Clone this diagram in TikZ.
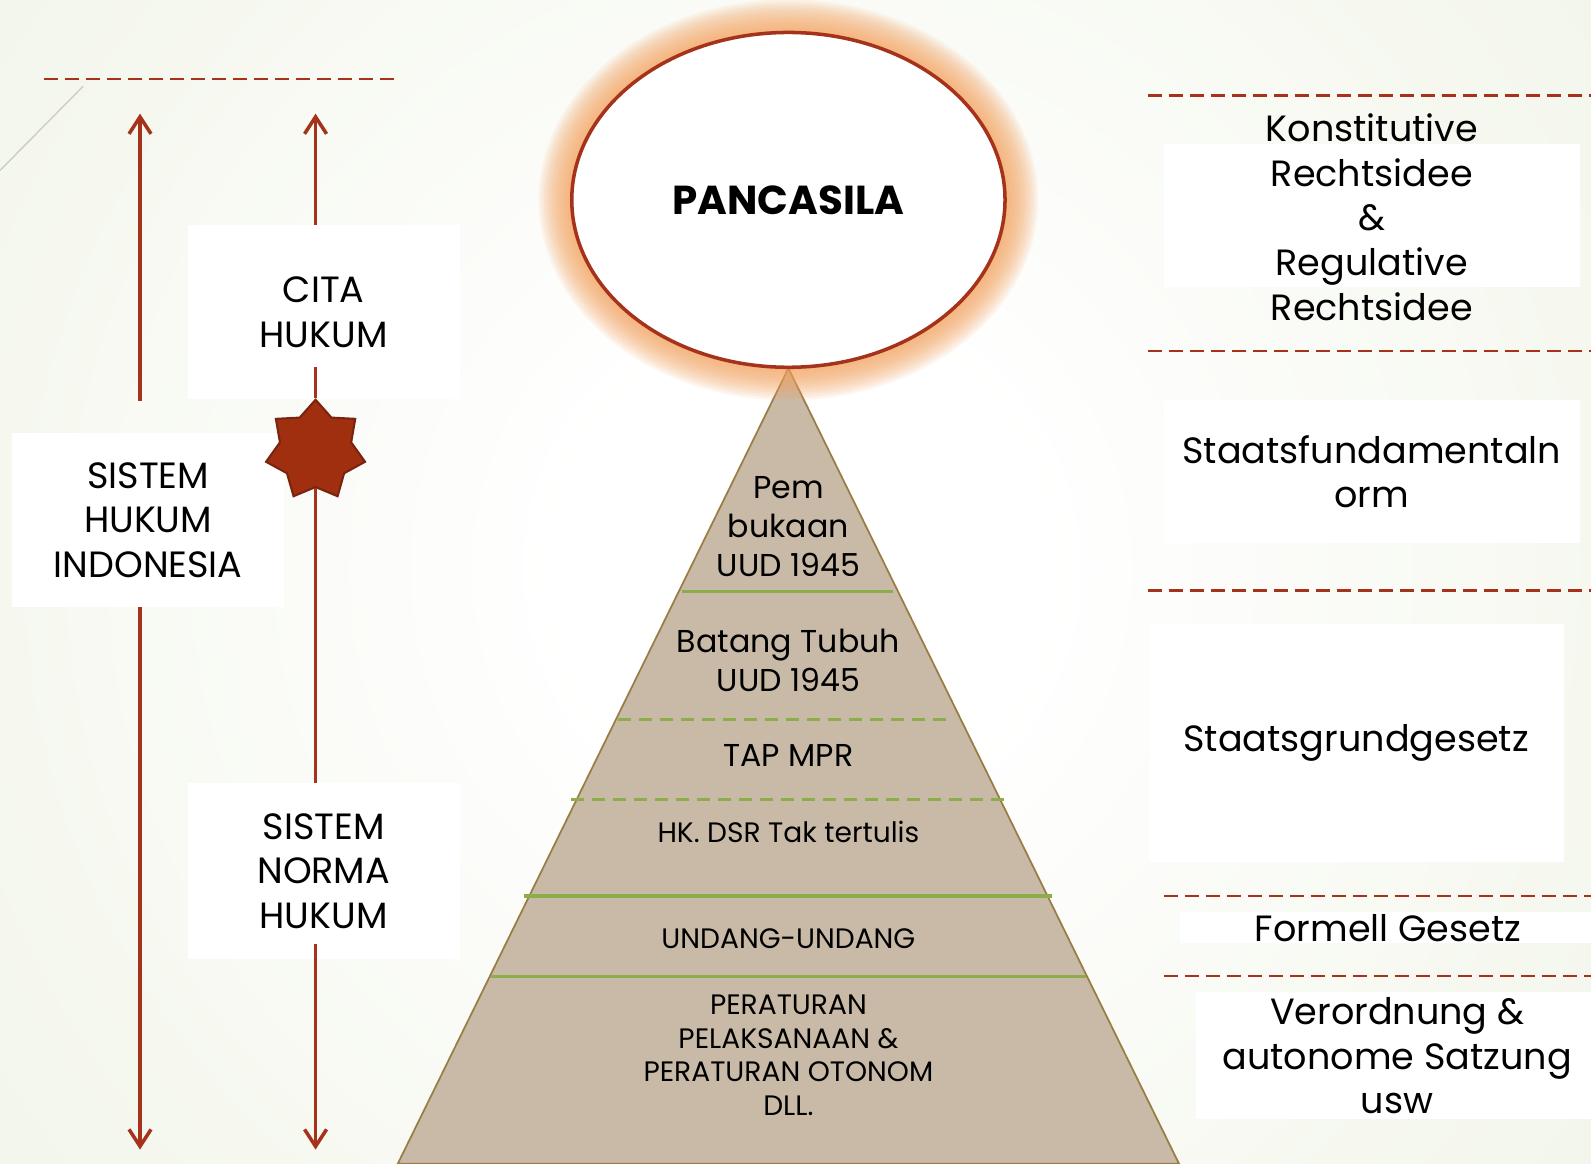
\documentclass[tikz,border=0pt]{standalone}
\usepackage{fontspec}
\setmainfont{Poppins}
\usetikzlibrary{shapes.geometric,arrows.meta}

\definecolor{hijauLatar}{HTML}{E4EBD2}
\definecolor{merahGaris}{HTML}{A5321B}
\definecolor{bintangIsi}{HTML}{A02F10}
\definecolor{bintangTepi}{HTML}{7A2410}
\definecolor{piramidIsi}{HTML}{C8BAA7}
\definecolor{piramidTepi}{HTML}{9A7D45}
\definecolor{hijauGaris}{HTML}{8DAD4B}
\definecolor{cahayaOranye}{HTML}{F5A35E}

\newcommand{\pxu}{0.10147mm}

\pgfdeclareradialshading{latarCahaya}{\pgfpoint{0bp}{0bp}}{color(0bp)=(white); color(3bp)=(white); color(24bp)=(hijauLatar); color(50bp)=(hijauLatar)}

\tikzset{
  kotak/.style={fill=white, inner sep=0pt},
  teksBesar/.style={font=\fontsize{10.4}{12.7}\selectfont, align=center},
  teksPiramid/.style={font=\fontsize{9}{11}\selectfont, align=center},
  teksKecil/.style={font=\fontsize{8}{9.5}\selectfont, align=center},
  panah/.style={merahGaris, line width=1pt, -{Straight Barb[length=1.7mm,width=2.2mm]}},
  garisMerah/.style={merahGaris, line width=1pt},
  putusMerah/.style={merahGaris, line width=0.65pt, dash pattern=on 1.45mm off 0.65mm},
  batasHijau/.style={hijauGaris, line width=0.9pt},
  putusHijau/.style={hijauGaris, line width=0.75pt, dash pattern=on 1.3mm off 0.8mm},
  elips/.style={ellipse, fill=white, draw=merahGaris, line width=1pt, minimum width=427*\pxu, minimum height=330*\pxu, font=\fontsize{11.5}{13}\selectfont\bfseries},
  bintangMerah/.style={star, star points=7, star point ratio=1.39, minimum size=100*\pxu, inner sep=0pt, fill=bintangIsi, draw=bintangTepi, line width=0.6pt}
}

\begin{document}
\begin{tikzpicture}[x=\pxu, y=-\pxu]
    \useasboundingbox (0,0) rectangle (1568,1147);
    \clip (0,0) rectangle (1568,1147);

    % Latar
    \fill[hijauLatar] (0,0) rectangle (1568,1147);
    \shade[shading=latarCahaya] (790,560) circle (1950);
    \draw[hijauLatar!75!gray, line width=0.4pt] (0,168) -- (82,85);

    % Piramida
    \filldraw[fill=piramidIsi, draw=piramidTepi, line width=0.5pt] (777,363) -- (1162,1147) -- (392,1147) -- cycle;
    \draw[batasHijau] (672,583) -- (880,583);
    \draw[putusHijau] (609,709) -- (932,709);
    \draw[putusHijau] (563,788) -- (990,788);
    \draw[batasHijau] (516,883) -- (1037,883);
    \draw[batasHijau] (484,962) -- (1070,962);

    \node[teksPiramid] (pembukaan) at (777,519) {Pem\\bukaan\\UUD 1945};
    \node[teksPiramid] (batangTubuh) at (777,651) {Batang Tubuh\\UUD 1945};
    \node[teksPiramid] (tapMpr) at (777,745) {TAP MPR};
    \node[teksKecil] (hukumDasar) at (777,820) {HK. DSR Tak tertulis};
    \node[teksKecil] (undang) at (777,925) {UNDANG-UNDANG};
    \node[teksKecil] (peraturan) at (777,1040) {PERATURAN\\PELAKSANAAN \&\\PERATURAN OTONOM\\DLL.};

    % Pancasila dengan cahaya
    \coordinate (pusatPancasila) at (777,197);
    \foreach \g in {13,...,1}
        \fill[cahayaOranye, opacity=0.1] (pusatPancasila) ellipse ({213.5+2.5*\g} and {165+2.5*\g});
    \node[elips] (pancasila) at (pusatPancasila) {PANCASILA};

    % Kolom kiri
    \draw[putusMerah] (43,78) -- (390,78);
    \node[kotak, teksBesar, minimum width=268*\pxu, minimum height=171*\pxu] (citaHukum) at (319,307.5) {CITA\\HUKUM};
    \node[kotak, teksBesar, minimum width=268*\pxu, minimum height=171*\pxu] (sistemHukum) at (146,512.5) {SISTEM\\HUKUM\\INDONESIA};
    \node[kotak, teksBesar, minimum width=268*\pxu, minimum height=173*\pxu] (sistemNorma) at (319,858.5) {SISTEM\\NORMA\\HUKUM};

    \coordinate (ujungKiriAtas) at (138,112);
    \coordinate (ujungKiriBawah) at (138,1133);
    \coordinate (awalKiri) at (138,395);
    \coordinate (ujungKananAtas) at (311,112);
    \coordinate (ujungKananBawah) at (311,1133);
    \coordinate (citaBawah) at (311,362);
    \coordinate (normaBawah) at (311,930);

    \draw[panah] (awalKiri) -- (ujungKiriAtas);
    \draw[panah] (sistemHukum.south -| ujungKiriBawah) -- (ujungKiriBawah);
    \draw[panah] (citaHukum.north -| ujungKananAtas) -- (ujungKananAtas);
    \node[bintangMerah] (bintang) at (311,444) {};
    \draw[garisMerah] (citaBawah) -- (bintang);
    \draw[garisMerah] (bintang) -- (sistemNorma.north -| bintang);
    \draw[panah] (normaBawah) -- (ujungKananBawah);

    % Kolom kanan
    \draw[putusMerah] (1131,94) -- (1568,94);
    \draw[putusMerah] (1131,346) -- (1568,346);
    \draw[putusMerah] (1131,582) -- (1568,582);
    \draw[putusMerah] (1147,883) -- (1568,883);
    \draw[putusMerah] (1147,962) -- (1568,962);

    \node[kotak, minimum width=410*\pxu, minimum height=141*\pxu] (kotakRechtsidee) at (1352,212.5) {};
    \node[teksBesar] (rechtsidee) at (1352,214) {Konstitutive\\Rechtsidee\\\&\\Regulative\\Rechtsidee};
    \node[kotak, teksBesar, minimum width=410*\pxu, minimum height=141*\pxu] (staatsfundamental) at (1352,465) {Staatsfundamentaln\\orm};
    \node[kotak, teksBesar, minimum width=409*\pxu, minimum height=235*\pxu] (staatsgrund) at (1336.5,732.5) {Staatsgrundgesetz};
    \node[kotak, minimum width=417*\pxu, minimum height=30*\pxu] (kotakFormell) at (1371.5,914) {};
    \node[teksBesar] (formell) at (1368,915) {Formell Gesetz};
    \node[kotak, teksBesar, minimum width=396*\pxu, minimum height=125*\pxu] (verordnung) at (1377,1040.5) {Verordnung \&\\autonome Satzung\\usw};
\end{tikzpicture}
\end{document}
